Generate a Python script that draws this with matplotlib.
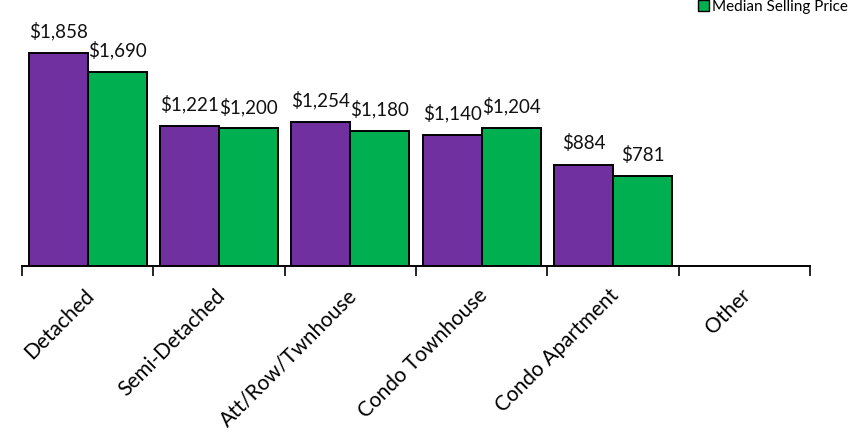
import numpy as np
import matplotlib.pyplot as plt
from matplotlib.patches import Patch

categories = ['Detached', 'Semi-Detached', 'Att/Row/Twnhouse', 'Condo Townhouse',
              'Condo Apartment', 'Other']
avg_price = [1858, 1221, 1254, 1140, 884, np.nan]
median_price = [1690, 1200, 1180, 1204, 781, np.nan]
legend_name = 'Median Selling Price'

purple = '#7030A0'
green = '#00B050'

plt.rcParams['font.family'] = ['Lato', 'DejaVu Sans']

fig = plt.figure(figsize=(8.5, 4.34), dpi=100)
ax = fig.add_axes([22 / 850, (434 - 266) / 434, (810 - 22) / 850, 266 / 434])

x = np.arange(len(categories))
w = 0.45
b1 = ax.bar(x - w / 2, avg_price, w, color=purple, edgecolor='black', linewidth=1.4)
b2 = ax.bar(x + w / 2, median_price, w, color=green, edgecolor='black', linewidth=1.4)

for bars, vals in ((b1, avg_price), (b2, median_price)):
    for rect, v in zip(bars, vals):
        if np.isnan(v):
            continue
        ax.annotate(f'${v:,.0f}', (rect.get_x() + rect.get_width() / 2, v),
                    xytext=(0, 9), textcoords='offset points',
                    ha='center', va='bottom', fontsize=13.5, color='#111111')

ax.set_xlim(-0.5, len(categories) - 0.5)
ax.set_ylim(0, 2321)

# tick marks between categories, labels at the centres
ax.set_xticks(np.arange(len(categories) + 1) - 0.5)
ax.set_xticklabels([])
ax.set_xticks(x - 0.03, minor=True)
ax.set_xticklabels(categories, minor=True, rotation=45, ha='right',
                   rotation_mode='anchor', fontsize=15)
ax.tick_params(axis='x', which='major', length=7, width=1.2, direction='out')
ax.tick_params(axis='x', which='minor', length=0, pad=14)
ax.set_yticks([])
for side in ('left', 'right', 'top'):
    ax.spines[side].set_visible(False)
ax.spines['bottom'].set_linewidth(1.4)

fig.legend([Patch(facecolor=green, edgecolor='black')], [legend_name],
           loc='upper right', bbox_to_anchor=(848 / 850, 1.0), frameon=False,
           fontsize=11, handlelength=0.7, handleheight=0.7, handletextpad=0.2,
           borderpad=0, borderaxespad=0)

fig.savefig('out.png', dpi=100)
